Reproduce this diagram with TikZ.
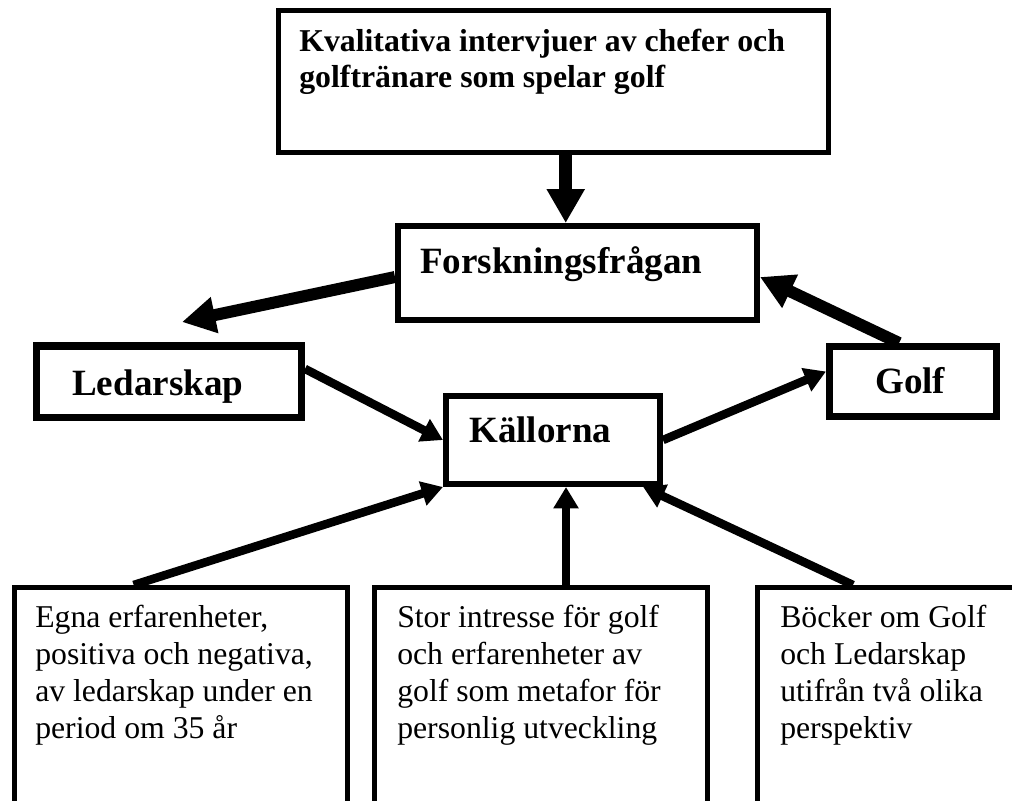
\documentclass[tikz,border=0pt]{standalone}
\usepackage{fontspec}
\setmainfont{Liberation Serif}
\usetikzlibrary{arrows.meta,calc}
\tikzset{
  box/.style={draw, rectangle, inner sep=0pt},
  heading/.style={font=\fontsize{27.8}{33}\selectfont\bfseries, inner sep=0pt, anchor=base west},
  leadtext/.style={font=\fontsize{23.85}{26.7}\selectfont\bfseries, inner sep=0pt, anchor=base west, align=left},
  bodytext/.style={font=\fontsize{23.8}{27.5}\selectfont, inner sep=0pt, anchor=base west, align=left},
  bigarrow/.style={line width=9.75pt, -{Triangle[length=25.5pt,width=27pt]}},
  midarrow/.style={line width=9pt, -{Triangle[length=25pt,width=26pt]}},
  smallarrow/.style={line width=6.4pt, -{Triangle[length=16pt,width=18pt]}},
}
\begin{document}
\begin{tikzpicture}[x=0.75pt,y=-0.75pt]
  \useasboundingbox (0,0) rectangle (1012,800);
  \fill[white] (0,0) rectangle (1012,800);
  \clip (0,0) rectangle (1012,800);

  % boxes
  \node[box, line width=3.75pt, minimum width=412.5pt, minimum height=106.5pt] (top) at (553.5,81.5) {};
  \node[box, line width=4.5pt, minimum width=269.25pt, minimum height=70.5pt] (fq) at (577.5,273) {};
  \node[box, line width=5.6pt, minimum width=198.4pt, minimum height=53.6pt] (led) at (169,381.5) {};
  \node[box, line width=5.25pt, minimum width=125.25pt, minimum height=52.5pt] (golf) at (913,381.5) {};
  \node[box, line width=4.5pt, minimum width=160.5pt, minimum height=66pt] (kall) at (553,440) {};
  \node[box, line width=3.75pt, minimum width=249.75pt, minimum height=181.9pt] (bl) at (181,708.75) {};
  \node[box, line width=3.75pt, minimum width=249.75pt, minimum height=181.9pt] (bm) at (541,708.75) {};
  \node[box, line width=3.75pt, minimum width=211.9pt, minimum height=181.9pt] (br) at (898.75,708.75) {};

  % texts (multi-line nodes are anchored on their last baseline)
  \node[leadtext] (toptext) at ($(top.north west)+(23,79)$)
    {Kvalitativa intervjuer av chefer och\\golftränare som spelar golf};
  \node[heading] (fqtext) at ($(fq.north west)+(25,50)$) {Forskningsfrågan};
  \node[heading] (ledtext) at ($(led.north west)+(39,53)$) {Ledarskap};
  \node[heading] (golftext) at ($(golf.north west)+(49,50)$) {Golf};
  \node[heading] (kalltext) at ($(kall.north west)+(26,49)$) {Källorna};
  \node[bodytext] (bltext) at ($(bl.north west)+(23,153)$)
    {Egna erfarenheter,\\positiva och negativa,\\av ledarskap under en\\period om 35 år};
  \node[bodytext] (bmtext) at ($(bm.north west)+(25,153)$)
    {Stor intresse för golf\\och erfarenheter av\\golf som metafor för\\personlig utveckling};
  \node[bodytext] (brtext) at ($(br.north west)+(25,153)$)
    {Böcker om Golf\\och Ledarskap\\utifrån två olika\\perspektiv};

  % connectors
  \coordinate (a1) at ($(top.south west)!.522!(top.south east)$);
  \draw[bigarrow] (a1) -- (a1 |- fq.north);

  \coordinate (freeend) at (182,322);
  \draw[midarrow] ($(fq.west)+(0,4)$) -- (freeend);

  \draw[midarrow] ($(golf.north west)!.42!(golf.north east)$) -- ($(fq.east)+(0,4)$);

  \draw[smallarrow] ($(led.north east)!.34!(led.south east)$) -- (kall.west);
  \draw[smallarrow] (kall.east) -- ($(golf.north west)!.37!(golf.south west)$);

  \draw[smallarrow] ($(bl.north west)!.36!(bl.north east)$) -- (kall.south west);
  \coordinate (a7) at ($(bm.north west)!.574!(bm.north east)$);
  \draw[smallarrow] (a7) -- (a7 |- kall.south);
  \draw[smallarrow] ($(br.north west)+(98,0)$) -- ($(kall.south west)!.91!(kall.south east)$);
\end{tikzpicture}
\end{document}
